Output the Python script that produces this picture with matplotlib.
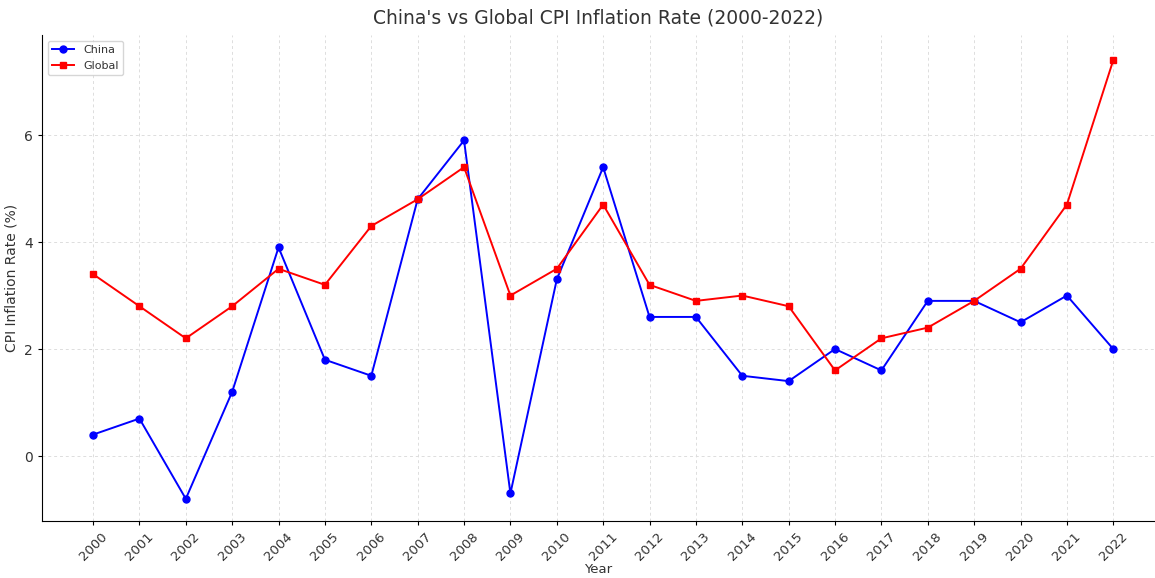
import matplotlib
matplotlib.use("Agg")
import matplotlib.pyplot as plt

years = list(range(2000, 2023))
china = [0.4, 0.7, -0.8, 1.2, 3.9, 1.8, 1.5, 4.8, 5.9, -0.7, 3.3, 5.4, 2.6, 2.6,
         1.5, 1.4, 2.0, 1.6, 2.9, 2.9, 2.5, 3.0, 2.0]
global_cpi = [3.4, 2.8, 2.2, 2.8, 3.5, 3.2, 4.3, 4.8, 5.4, 3.0, 3.5, 4.7, 3.2, 2.9,
              3.0, 2.8, 1.6, 2.2, 2.4, 2.9, 3.5, 4.7, 7.4]

txt = '#333333'
fig = plt.figure(figsize=(11.55, 5.78), dpi=100)
ax = fig.add_axes([0.0364, 0.0986, 0.9636, 0.8408])
ax.plot(years, china, color='blue', marker='o', markersize=5, linewidth=1.4, label='China')
ax.plot(years, global_cpi, color='red', marker='s', markersize=5, linewidth=1.4, label='Global')

ax.set_xticks(years)
ax.set_xticklabels([str(y) for y in years], rotation=45, fontsize=9.5, color=txt)
ax.tick_params(axis='both', length=3)
ax.tick_params(axis='y', labelsize=10, labelcolor=txt)
ax.set_xlim(1998.9, 2022.9)
ax.set_ylim(-1.215, 7.87)
ax.set_yticks([0, 2, 4, 6])
ax.grid(True, linestyle=(0, (3, 3)), color='#dddddd', linewidth=0.7)
for s in ['top', 'right']:
    ax.spines[s].set_visible(False)
ax.set_title("China's vs Global CPI Inflation Rate (2000-2022)", fontsize=13.5, color=txt, pad=8)
ax.set_xlabel('Year', fontsize=9.5, color=txt, labelpad=0)
ax.set_ylabel('CPI Inflation Rate (%)', fontsize=10, color=txt)
ax.legend(loc='upper left', fontsize=8, labelcolor=txt)

fig.savefig('out.png', dpi=100)
